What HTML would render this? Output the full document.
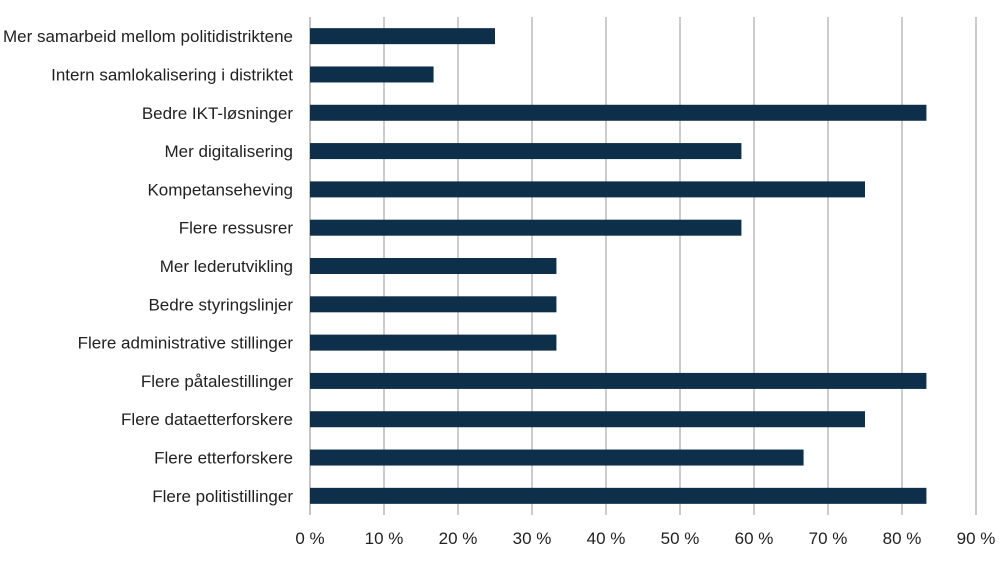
<!DOCTYPE html>
<html><head><meta charset="utf-8"><style>
body{margin:0;background:#fff;}
svg{display:block;font-family:"Liberation Sans",Arial,sans-serif;}
</style></head><body>
<svg id="chart" width="1000" height="561"></svg>
<script>
const categories=["Mer samarbeid mellom politidistriktene","Intern samlokalisering i distriktet","Bedre IKT-løsninger","Mer digitalisering","Kompetanseheving","Flere ressusrer","Mer lederutvikling","Bedre styringslinjer","Flere administrative stillinger","Flere påtalestillinger","Flere dataetterforskere","Flere etterforskere","Flere politistillinger"];
const values=[25,16.7,83.3,58.3,75,58.3,33.3,33.3,33.3,83.3,75,66.7,83.3];
const ticks=[0,10,20,30,40,50,60,70,80,90];
const tickLabels=["0 %","10 %","20 %","30 %","40 %","50 %","60 %","70 %","80 %","90 %"];
const NS="http://www.w3.org/2000/svg";
const svgEl=document.getElementById('chart');
const x0=310,x1=976,plotTop=17,plotBottom=515;
const xs=v=>x0+(v/90)*(x1-x0);
const band=(plotBottom-plotTop)/categories.length;
const ys=i=>plotTop+band*(i+0.5);
function mk(t,a){const e=document.createElementNS(NS,t);for(const k in a)e.setAttribute(k,a[k]);svgEl.appendChild(e);return e;}
ticks.forEach((t,i)=>{
  const g=mk('line',{x1:xs(t),x2:xs(t),y1:plotTop,y2:plotBottom,stroke:i===0?'#888':'#999','stroke-width':1});
  
  
  const l=mk('text',{x:xs(t),y:544,'text-anchor':'middle','font-size':17,fill:'#222'});
  l.textContent=tickLabels[i];
  
  
});
categories.forEach((c,i)=>{
  const r=mk('rect',{x:x0,y:ys(i)-8,width:xs(values[i])-x0,height:16,fill:'#0e2f4a'});
  
  
  const t=mk('text',{x:293,y:ys(i)+6,'text-anchor':'end','font-size':17,fill:'#222'});
  t.textContent=c;
  
  
});
</script>
</body></html>
